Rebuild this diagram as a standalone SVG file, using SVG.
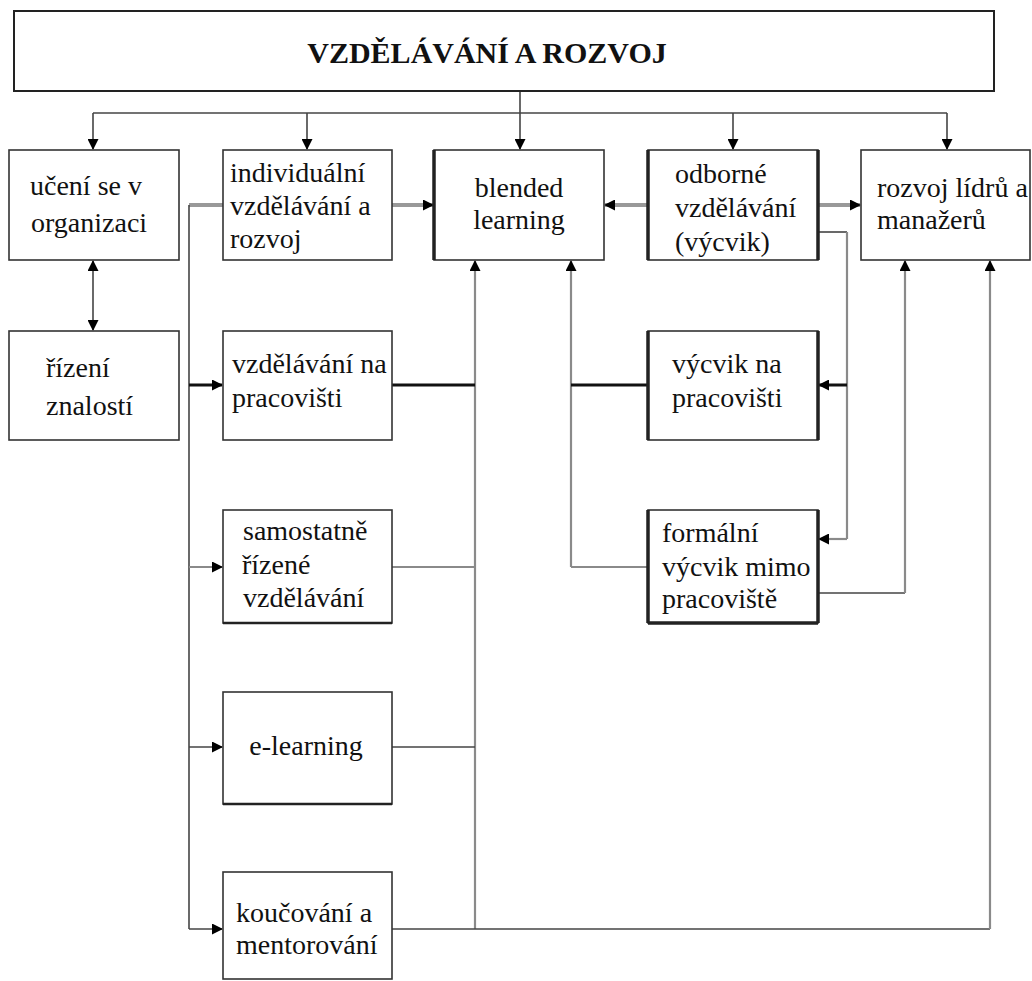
<svg xmlns="http://www.w3.org/2000/svg" width="1032" height="981" viewBox="0 0 1032 981">
<defs>
<style>
.box{fill:#fff;stroke:#333;stroke-width:1.6}
.thick{stroke:#222;stroke-width:3.5;fill:none}
.c{fill:none;stroke:#444;stroke-width:1.6}
.g{fill:none;stroke:#8a8a8a;stroke-width:2.2}
.gt{fill:none;stroke:#999;stroke-width:4}
.k{fill:none;stroke:#111;stroke-width:3}
.a{marker-end:url(#ah)}
</style>
<marker id="ah" markerUnits="userSpaceOnUse" markerWidth="11" markerHeight="11" refX="10" refY="5.5" orient="auto">
<path d="M0,0 L11,5.5 L0,11 z" fill="#000"/>
</marker>
<marker id="ahs" markerUnits="userSpaceOnUse" markerWidth="11" markerHeight="11" refX="10" refY="5.5" orient="auto-start-reverse">
<path d="M0,0 L11,5.5 L0,11 z" fill="#000"/>
</marker>
</defs>
<rect width="1032" height="981" fill="#fff"/>

<g id="connectors">
<path class="c a" d="M520,91 V149"/>
<path class="c" d="M93,113 H947"/>
<path class="c a" d="M93,113 V149"/>
<path class="c a" d="M307,113 V149"/>
<path class="c a" d="M733,113 V149"/>
<path class="c a" d="M947,113 V149"/>
<path class="c" d="M93,261 V330" marker-start="url(#ahs)" marker-end="url(#ahs)"/>
<path class="gt a" d="M392,205 H433"/>
<path class="gt a" d="M648,205 H605"/>
<path class="gt a" d="M818,205 H860"/>
<path class="gt" d="M223,205 H189"/>
<path class="c" d="M189,205 V929"/>
<path class="k a" d="M189,385 H222"/>
<path class="g a" d="M189,567 H222"/>
<path class="c a" d="M189,747 H222"/>
<path class="c a" d="M189,929 H222"/>
<path class="g a" d="M475,929 V261"/>
<path class="k" d="M392,385 H475"/>
<path class="g" d="M392,567 H475"/>
<path class="c" d="M392,747 H475"/>
<path class="c" d="M392,929 H990"/>
<path class="g a" d="M571,567 V261"/>
<path class="k" d="M648,385 H571"/>
<path class="g" d="M648,567 H571"/>
<path class="c" d="M818,232 H847"/>
<path class="g" d="M847,232 V539"/>
<path class="k a" d="M847,385 H819"/>
<path class="g a" d="M847,539 H819"/>
<path class="c" d="M818,593 H905"/>
<path class="g a" d="M905,593 V261"/>
<path class="g a" d="M990,929 V261"/>
</g>

<g id="title">
<rect x="14" y="11" width="980" height="80" fill="#fff" stroke="#222" stroke-width="2"/>
<text x="487" y="63" text-anchor="middle" font-family="Liberation Serif" font-size="30" font-weight="bold" fill="#111">VZDĚLÁVÁNÍ A ROZVOJ</text>
</g>

<g id="uceni" font-family="Liberation Serif" font-size="28" fill="#111">
<rect class="box" x="9" y="150" width="170" height="110"/>
<text x="30" y="195">učení se v</text>
<text x="31" y="232">organizaci</text>
</g>

<g id="individualni" font-family="Liberation Serif" font-size="28" fill="#111">
<rect class="box" x="223" y="150" width="169" height="110"/>
<text x="230" y="182">individuální</text>
<text x="230" y="215">vzdělávání a</text>
<text x="230" y="248">rozvoj</text>
</g>

<g id="blended" font-family="Liberation Serif" font-size="28" fill="#111">
<rect class="box" x="434" y="150" width="170" height="110"/>
<path class="thick" d="M434,150 V260"/>
<text x="519" y="197" text-anchor="middle">blended</text>
<text x="519" y="229" text-anchor="middle">learning</text>
</g>

<g id="odborne" font-family="Liberation Serif" font-size="28" fill="#111">
<rect class="box" x="648" y="150" width="170" height="110"/>
<path class="thick" d="M648,150 V260 M818,150 V260"/>
<text x="675" y="183">odborné</text>
<text x="675" y="217">vzdělávání</text>
<text x="675" y="251">(výcvik)</text>
</g>

<g id="rozvoj" font-family="Liberation Serif" font-size="28" fill="#111">
<rect class="box" x="861" y="150" width="169" height="110"/>
<text x="877" y="197">rozvoj lídrů a</text>
<text x="877" y="229">manažerů</text>
</g>

<g id="rizeni" font-family="Liberation Serif" font-size="28" fill="#111">
<rect class="box" x="9" y="331" width="170" height="109"/>
<text x="46" y="377">řízení</text>
<text x="46" y="415">znalostí</text>
</g>

<g id="vzdelavani-pracovisti" font-family="Liberation Serif" font-size="28" fill="#111">
<rect class="box" x="223" y="331" width="169" height="109"/>
<text x="232" y="373">vzdělávání na</text>
<text x="232" y="407">pracovišti</text>
</g>

<g id="vycvik-pracovisti" font-family="Liberation Serif" font-size="28" fill="#111">
<rect class="box" x="648" y="331" width="170" height="109"/>
<path class="thick" d="M648,331 V440 M818,331 V440"/>
<text x="672" y="373">výcvik na</text>
<text x="672" y="407">pracovišti</text>
</g>

<g id="samostatne" font-family="Liberation Serif" font-size="28" fill="#111">
<rect class="box" x="223" y="510" width="169" height="113"/>
<path class="thick" d="M223,623 H392" style="stroke-width:2.5"/>
<text x="243" y="540">samostatně</text>
<text x="242" y="574">řízené</text>
<text x="243" y="607">vzdělávání</text>
</g>

<g id="formalni" font-family="Liberation Serif" font-size="28" fill="#111">
<rect class="box" x="648" y="510" width="170" height="113"/>
<path class="thick" d="M648,510 V623 M818,510 V623 M648,623 H818"/>
<text x="662" y="542">formální</text>
<text x="662" y="576">výcvik mimo</text>
<text x="662" y="608">pracoviště</text>
</g>

<g id="elearning" font-family="Liberation Serif" font-size="28" fill="#111">
<rect class="box" x="223" y="692" width="169" height="112"/>
<path class="thick" d="M223,804 H392" style="stroke-width:2.5"/>
<text x="306" y="755" text-anchor="middle">e-learning</text>
</g>

<g id="koucovani" font-family="Liberation Serif" font-size="28" fill="#111">
<rect class="box" x="223" y="872" width="169" height="107"/>
<text x="236" y="922">koučování a</text>
<text x="236" y="954">mentorování</text>
</g>
</svg>
